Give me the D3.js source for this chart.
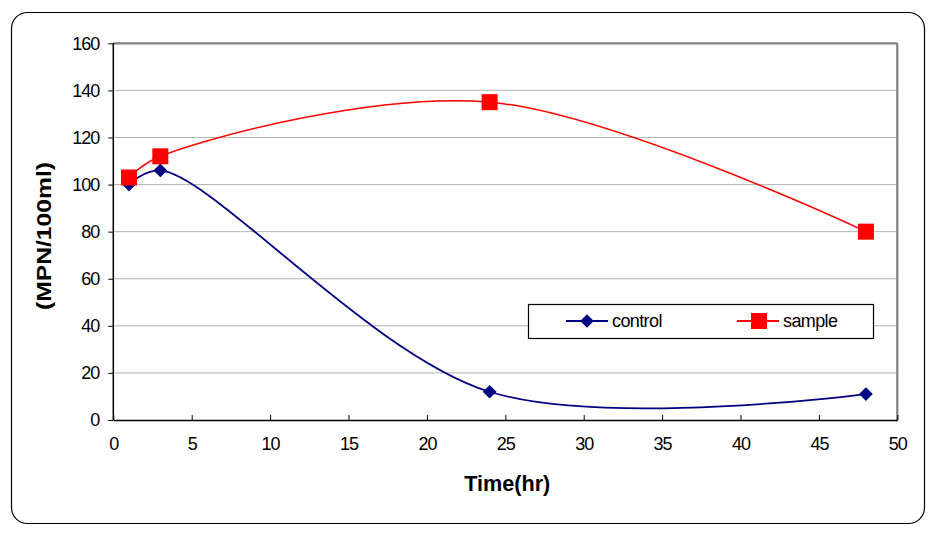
<!DOCTYPE html>
<html><head><meta charset="utf-8">
<script src="https://cdn.jsdelivr.net/npm/d3@7"></script>
<style>body{margin:0;background:#fff}text{font-family:"Liberation Sans",Arial,sans-serif}</style>
</head><body><svg id="c" width="942" height="536"></svg>
<script>
const times = [1, 3, 24, 48];
const control = [100, 106, 12, 11];
const sample = [103, 112, 135, 80];
const xTicks = [0,5,10,15,20,25,30,35,40,45,50];
const yTicks = [0,20,40,60,80,100,120,140,160];
const seriesNames = ["control","sample"];

const svg = d3.select("#c");
const L=113.3, R=897.3, T=43.3, B=420;
const x = d3.scaleLinear().domain([0,50]).range([L,R]);
const y = d3.scaleLinear().domain([0,160]).range([B,T]);

svg.append("rect").attr("x",11.5).attr("y",12.5).attr("width",913).attr("height",511)
  .attr("rx",16).attr("fill","#fff").attr("stroke","#000").attr("stroke-width",1.2);

svg.selectAll(".g").data(yTicks.filter(d=>d>0&&d<160)).enter().append("line")
  .attr("x1",L).attr("x2",R).attr("y1",d=>y(d)).attr("y2",d=>y(d))
  .attr("stroke","#b4b4b4").attr("stroke-width",1);
svg.append("line").attr("x1",L).attr("x2",R).attr("y1",y(160)).attr("y2",y(160)).attr("stroke","#808080").attr("stroke-width",2.2);
svg.append("line").attr("x1",R).attr("x2",R).attr("y1",T).attr("y2",B).attr("stroke","#808080").attr("stroke-width",2.2);

const yAx = svg.append("g").attr("transform",`translate(${L},0)`)
  .call(d3.axisLeft(y).tickValues(yTicks).tickSize(5).tickPadding(9).tickFormat(d3.format("d")));
const xAx = svg.append("g").attr("transform",`translate(0,${B})`)
  .call(d3.axisBottom(x).tickValues(xTicks).tickSizeInner(-5).tickSizeOuter(0).tickPadding(17).tickFormat(d3.format("d")));
[yAx,xAx].forEach(a=>{
  a.select(".domain").attr("stroke","#000").attr("stroke-width",1.5);
  a.selectAll(".tick line").attr("stroke","#000");
  a.selectAll("text").attr("font-size",18).attr("fill","#000").style("letter-spacing","-1px")
   .style("font-family","'Liberation Sans',Arial,sans-serif");
});
yAx.select(".domain").attr("d",`M-0,${B}V${T}`);

svg.append("text").attr("x",x(25)+2).attr("y",491).attr("text-anchor","middle")
  .attr("font-size",22).attr("font-weight","bold").attr("textLength",86).attr("lengthAdjust","spacingAndGlyphs").text("Time(hr)");
svg.append("text").attr("transform",`translate(51,${236}) rotate(-90)`).attr("text-anchor","middle")
  .attr("font-size",21).attr("font-weight","bold").attr("textLength",148).attr("lengthAdjust","spacingAndGlyphs").text("(MPN/100ml)");

const line = d3.line().x(d=>x(d[0])).y(d=>y(d[1])).curve(d3.curveCatmullRom.alpha(0.5));
const cData = times.map((t,i)=>[t,control[i]]);
const sData = times.map((t,i)=>[t,sample[i]]);
const navy="#000080", red="#ff0000";
const diamond = d3.symbol().type(d3.symbolDiamond2).size(120);

svg.append("path").attr("d",line(cData)).attr("fill","none").attr("stroke",navy).attr("stroke-width",1.8);
svg.append("path").attr("d",line(sData)).attr("fill","none").attr("stroke",red).attr("stroke-width",1.5);
svg.selectAll(".cm").data(cData).enter().append("path")
  .attr("d",diamond).attr("transform",d=>`translate(${x(d[0])},${y(d[1])})`).attr("fill",navy);
svg.selectAll(".sm").data(sData).enter().append("rect")
  .attr("x",d=>x(d[0])-8).attr("y",d=>y(d[1])-8).attr("width",16).attr("height",16).attr("fill",red);

const lg = svg.append("g");
lg.append("rect").attr("x",528.5).attr("y",304.5).attr("width",345).attr("height",34)
  .attr("fill","#fff").attr("stroke","#000").attr("stroke-width",1.2);
const items = [{n:seriesNames[0],c:navy,x0:566},{n:seriesNames[1],c:red,x0:737}];
items.forEach((it,i)=>{
  lg.append("line").attr("x1",it.x0).attr("x2",it.x0+42).attr("y1",321).attr("y2",321).attr("stroke",it.c).attr("stroke-width",2);
  if(i===0) lg.append("path").attr("d",diamond).attr("transform",`translate(${it.x0+21},321)`).attr("fill",it.c);
  else lg.append("rect").attr("x",it.x0+14).attr("y",313).attr("width",16).attr("height",16).attr("fill",it.c);
  lg.append("text").attr("x",it.x0+46).attr("y",327).attr("font-size",18).style("letter-spacing","-0.6px").text(it.n);
});
</script></body></html>
